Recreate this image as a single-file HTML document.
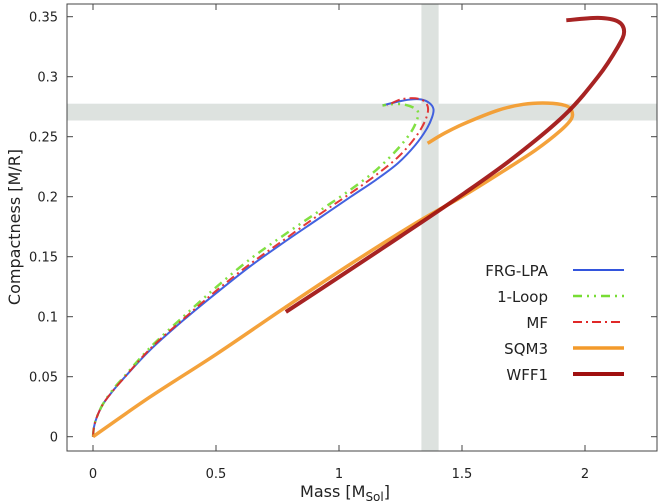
<!DOCTYPE html>
<html><head><meta charset="utf-8"><style>
body{margin:0;background:#fff;}
svg{display:block;font-family:"DejaVu Sans","Liberation Sans",sans-serif;}
</style></head><body>
<svg id="chart" width="661" height="503">
  <rect x="0" y="0" width="661" height="503" fill="#fff"/>
  <g id="bands"></g>
  <g id="series"></g>
  <rect x="67" y="4" width="590" height="447" fill="none" stroke="#444" stroke-width="1"/>
  <g id="axes"></g>
  <text x="20" y="227" transform="rotate(-90 20 227)" text-anchor="middle" font-size="16" fill="#222">Compactness [M/R]</text>
  <text x="345" y="497" text-anchor="middle" font-size="16" fill="#222">Mass [M<tspan font-size="12" dy="4">Sol</tspan><tspan dy="-4">]</tspan></text>
  <g id="legend"></g>
</svg>
<script>
const xTicks=[0,0.5,1,1.5,2];
const xTickLabels=["0","0.5","1","1.5","2"];
const yTicks=[0,0.05,0.1,0.15,0.2,0.25,0.3,0.35];
const yTickLabels=["0","0.05","0.1","0.15","0.2","0.25","0.3","0.35"];
const seriesNames=["FRG-LPA","1-Loop","MF","SQM3","WFF1"];
const frgM=[0,0.004,0.015,0.04,0.08,0.122,0.231,0.367,0.503,0.639,0.776,0.912,1.048,1.15,1.24,1.31,1.355,1.378,1.384,1.368,1.335,1.29,1.235,1.177];
const frgC=[0,0.008,0.016,0.027,0.038,0.048,0.072,0.097,0.12,0.142,0.162,0.181,0.2,0.214,0.228,0.243,0.256,0.266,0.273,0.278,0.281,0.281,0.279,0.276];
const loopM=[0,0.004,0.015,0.04,0.08,0.122,0.231,0.367,0.503,0.639,0.776,0.912,1.048,1.15,1.235,1.29,1.315,1.322,1.305,1.26,1.21,1.177];
const loopC=[0,0.008,0.016,0.027,0.039,0.049,0.074,0.1,0.125,0.148,0.168,0.187,0.206,0.222,0.239,0.253,0.263,0.27,0.274,0.277,0.277,0.276];
const mfM=[0,0.004,0.015,0.04,0.08,0.122,0.231,0.367,0.503,0.639,0.776,0.912,1.048,1.15,1.24,1.305,1.345,1.362,1.35,1.31,1.25,1.197];
const mfC=[0,0.008,0.016,0.027,0.038,0.048,0.073,0.098,0.122,0.144,0.164,0.184,0.203,0.218,0.233,0.248,0.261,0.272,0.279,0.282,0.281,0.276];
const sqmM=[0,0.231,0.503,0.776,1.048,1.32,1.5,1.65,1.8,1.9,1.945,1.945,1.92,1.849,1.75,1.646,1.51,1.43,1.36];
const sqmC=[0,0.033,0.069,0.107,0.144,0.179,0.2,0.219,0.239,0.255,0.265,0.272,0.276,0.278,0.277,0.272,0.261,0.253,0.2445];
const wffM=[0.784,1.0,1.25,1.51,1.713,1.917,2.053,2.134,2.159,2.134,2.053,1.924];
const wffC=[0.104,0.133,0.167,0.203,0.233,0.268,0.3,0.325,0.3375,0.346,0.349,0.347];
const bandMass=[1.335,1.405];
const bandC=[0.2635,0.2775];

const NS="http://www.w3.org/2000/svg";
const X0=67,X1=657,Y0=4,Y1=451;
function xs(m){return 93+m*246;}
function ys(c){return 436.7-c*1200;}
function mk(tag,attrs,parent){const e=document.createElementNS(NS,tag);for(const k in attrs)e.setAttribute(k,attrs[k]);parent.appendChild(e);return e;}
function smooth(M,C){
  const p=M.map((m,i)=>[xs(m),ys(C[i])]);
  let d="M"+p[0][0]+","+p[0][1];
  for(let i=0;i<p.length-1;i++){
    const a=p[Math.max(i-1,0)],b=p[i],c=p[i+1],e=p[Math.min(i+2,p.length-1)];
    const c1=[b[0]+(c[0]-a[0])/6,b[1]+(c[1]-a[1])/6],c2=[c[0]-(e[0]-b[0])/6,c[1]-(e[1]-b[1])/6];
    d+=" C"+c1[0]+","+c1[1]+" "+c2[0]+","+c2[1]+" "+c[0]+","+c[1];
  }
  return d;
}
const bands=document.getElementById('bands');
const vb=mk('rect',{x:xs(bandMass[0]),y:Y0,width:xs(bandMass[1])-xs(bandMass[0]),height:Y1-Y0,fill:"#dde2df"},bands);


const hb=mk('rect',{x:X0,y:ys(bandC[1]),width:X1-X0,height:ys(bandC[0])-ys(bandC[1]),fill:"#dde2df"},bands);



const styles=[
 {M:frgM,C:frgC,color:"#3355dd",w:2,dash:""},
 {M:loopM,C:loopC,color:"#77dd33",w:2.5,dash:"9,5,2,5,2,5"},
 {M:mfM,C:mfC,color:"#e02828",w:2,dash:"9,4,2,4"},
 {M:sqmM,C:sqmC,color:"#f39a2a",w:3.5,dash:""},
 {M:wffM,C:wffC,color:"#a01010",w:4,dash:""}
];
const sg=document.getElementById('series');
styles.forEach((s,i)=>{
  const p=mk('path',{d:smooth(s.M,s.C),fill:"none",stroke:s.color,"stroke-width":s.w,"stroke-dasharray":s.dash,"stroke-linejoin":"round",opacity:0.92},sg);
  
  
});
const ax=document.getElementById('axes');
xTicks.forEach((t,i)=>{
  const x=xs(t);
  mk('line',{x1:x,y1:Y1,x2:x,y2:Y1-6,stroke:"#444"},ax);
  mk('line',{x1:x,y1:Y0,x2:x,y2:Y0+6,stroke:"#444"},ax);
  const tx=mk('text',{x:x,y:Y1+27,"text-anchor":"middle","font-size":13,fill:"#222"},ax);
  tx.textContent=xTickLabels[i];
  
  
});
yTicks.forEach((t,i)=>{
  const y=ys(t);
  mk('line',{x1:X0,y1:y,x2:X0+6,y2:y,stroke:"#444"},ax);
  mk('line',{x1:X1,y1:y,x2:X1-6,y2:y,stroke:"#444"},ax);
  const tx=mk('text',{x:X0-9,y:y+5,"text-anchor":"end","font-size":13,fill:"#222"},ax);
  tx.textContent=yTickLabels[i];
  
  
});
const lg=document.getElementById('legend');
styles.forEach((s,i)=>{
  const y=270+i*26;
  const g=mk('g',{},lg);
  
  
  const t=mk('text',{x:548,y:y+6,"text-anchor":"end","font-size":15,fill:"#222"},g);
  t.textContent=seriesNames[i];
  mk('line',{x1:573,y1:y,x2:624,y2:y,stroke:s.color,"stroke-width":s.w,"stroke-dasharray":s.dash},g);
});
</script>
</body></html>
